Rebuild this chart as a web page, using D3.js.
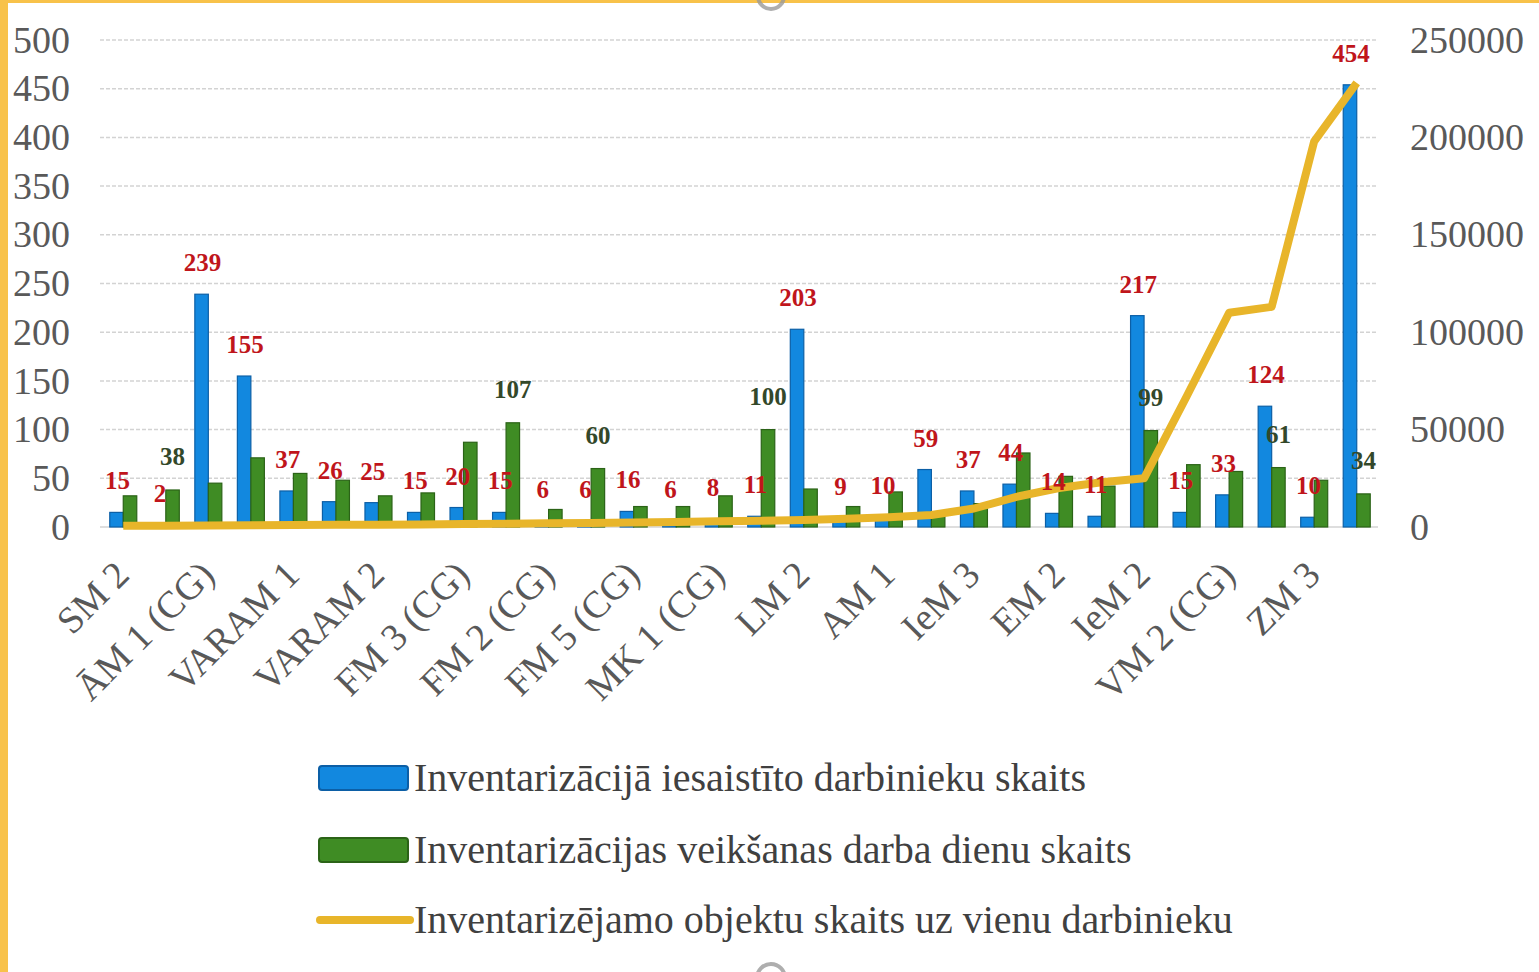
<!DOCTYPE html>
<html>
<head>
<meta charset="utf-8">
<script src="https://cdn.jsdelivr.net/npm/d3@7"></script>
<style>
  html, body { margin: 0; padding: 0; background: #ffffff; }
  svg { display: block; }
</style>
</head>
<body>
<svg id="chart" width="1539" height="972"></svg>
<script>
// ---- data ----
const categories = ["SM 2", "", "ĀM 1 (CG)", "", "VARAM 1", "", "VARAM 2", "", "FM 3 (CG)", "",
  "FM 2 (CG)", "", "FM 5 (CG)", "", "MK 1 (CG)", "", "LM 2", "", "AM 1", "",
  "IeM 3", "", "EM 2", "", "IeM 2", "", "VM 2 (CG)", "", "ZM 3", ""];
const employees = [15, 2, 239, 155, 37, 26, 25, 15, 20, 15, 6, 6, 16, 6, 8, 11, 203, 9, 10, 59,
  37, 44, 14, 11, 217, 15, 33, 124, 10, 454];
const workDays = [32, 38, 45, 71, 55, 48, 32, 35, 87, 107, 18, 60, 21, 21, 32, 100, 39, 21, 36, 15,
  24, 76, 52, 42, 99, 64, 57, 61, 48, 34];
const workDayLabels = [null, 38, null, null, null, null, null, null, null, 107, null, 60, null, null, null, 100,
  null, null, null, null, null, null, null, null, 99, null, null, 61, null, 34];
const objectsPerEmployee = [600, 700, 800, 900, 1000, 1100, 1200, 1300, 1500, 1700, 1900, 2100, 2300, 2600, 2900,
  3200, 3600, 4200, 5000, 6200, 9500, 15500, 20000, 23000, 25000, 67000, 110000, 113000, 198000, 228000];
const leftTicks = [0, 50, 100, 150, 200, 250, 300, 350, 400, 450, 500];
const rightTicks = [0, 50000, 100000, 150000, 200000, 250000];
const seriesNames = ["Inventarizācijā iesaistīto darbinieku skaits",
  "Inventarizācijas veikšanas darba dienu skaits",
  "Inventarizējamo objektu skaits uz vienu darbinieku"];

// ---- setup ----
const svg = d3.select("#chart");
const FONT = "'Liberation Serif', 'Times New Roman', serif";
const C_BLUE = "#1288df", C_BLUE_S = "#0c5fa6";
const C_GREEN = "#3f8c24", C_GREEN_S = "#2b6317";
const C_LINE = "#e8b52a";

svg.append("rect").attr("width", 1539).attr("height", 972).attr("fill", "#ffffff");

const idx = d3.range(categories.length);
const x = d3.scaleBand().domain(idx).range([102, 1378]).padding(0);
const y = d3.scaleLinear().domain([0, 500]).range([527, 40]);
const y2 = d3.scaleLinear().domain([0, 250000]).range([527, 40]);
const barW = 13.5;

// gridlines
svg.append("g").selectAll("line").data(leftTicks).join("line")
  .attr("x1", 100).attr("x2", 1378)
  .attr("y1", d => y(d)).attr("y2", d => y(d))
  .attr("stroke", "#d3d3d3").attr("stroke-width", 1.5)
  .attr("stroke-dasharray", d => d === 0 ? null : "4 2");

// left axis
const gl = svg.append("g").attr("transform", "translate(100,0)")
  .call(d3.axisLeft(y).tickValues(leftTicks).tickSize(0).tickPadding(30));
gl.select(".domain").remove();
gl.selectAll("text").attr("font-family", FONT).attr("font-size", 38).attr("fill", "#595959");

// right axis
const gr = svg.append("g").attr("transform", "translate(1378,0)")
  .call(d3.axisRight(y2).tickValues(rightTicks).tickFormat(d3.format("d")).tickSize(0).tickPadding(32));
gr.select(".domain").remove();
gr.selectAll("text").attr("font-family", FONT).attr("font-size", 38).attr("fill", "#595959");

// x axis
const gx = svg.append("g").attr("transform", "translate(0,527)")
  .call(d3.axisBottom(x).tickValues(idx.filter(i => i % 2 === 0))
    .tickFormat(i => categories[i]).tickSize(0));
gx.select(".domain").remove();
gx.selectAll("text")
  .attr("font-family", FONT).attr("font-size", 38).attr("fill", "#595959")
  .attr("text-anchor", "end").attr("x", 0).attr("y", 0).attr("dy", 0)
  .attr("transform", "translate(8,50) rotate(-45)");

const cx = i => x(i) + x.bandwidth() / 2;

// blue bars
svg.append("g").selectAll("rect").data(employees).join("rect")
  .attr("x", (d, i) => cx(i) - barW).attr("width", barW)
  .attr("y", d => y(d)).attr("height", d => y(0) - y(d))
  .attr("fill", C_BLUE).attr("stroke", C_BLUE_S).attr("stroke-width", 1.2);

// green bars
svg.append("g").selectAll("rect").data(workDays).join("rect")
  .attr("x", (d, i) => cx(i)).attr("width", barW)
  .attr("y", d => y(d)).attr("height", d => y(0) - y(d))
  .attr("fill", C_GREEN).attr("stroke", C_GREEN_S).attr("stroke-width", 1.2);

// line
const line = d3.line().x((d, i) => cx(i)).y(d => y2(d));
svg.append("path").datum(objectsPerEmployee)
  .attr("d", line).attr("fill", "none").attr("stroke", C_LINE)
  .attr("stroke-width", 8).attr("stroke-linejoin", "round").attr("stroke-linecap", "butt");

// labels - blue series (red text)
svg.append("g").selectAll("text").data(employees).join("text")
  .attr("x", (d, i) => cx(i) - barW / 2 + 1).attr("y", d => y(d) - 23)
  .attr("text-anchor", "middle").attr("font-family", FONT).attr("font-size", 25)
  .attr("font-weight", "bold").attr("fill", "#c0151b")
  .text(d => d);

// labels - green series
svg.append("g").selectAll("text").data(idx.filter(i => workDayLabels[i] !== null)).join("text")
  .attr("x", i => cx(i) + barW / 2).attr("y", i => y(workDays[i]) - 25)
  .attr("text-anchor", "middle").attr("font-family", FONT).attr("font-size", 25)
  .attr("font-weight", "bold").attr("fill", "#33482a")
  .text(i => workDayLabels[i]);

// legend
const lg = svg.append("g");
const legendRows = [778, 850, 920];
lg.append("rect").attr("x", 319).attr("y", legendRows[0] - 12).attr("width", 89).attr("height", 24)
  .attr("rx", 3).attr("fill", C_BLUE).attr("stroke", C_BLUE_S).attr("stroke-width", 2);
lg.append("rect").attr("x", 319).attr("y", legendRows[1] - 12).attr("width", 89).attr("height", 24)
  .attr("rx", 3).attr("fill", C_GREEN).attr("stroke", C_GREEN_S).attr("stroke-width", 2);
lg.append("line").attr("x1", 320).attr("x2", 410).attr("y1", legendRows[2]).attr("y2", legendRows[2])
  .attr("stroke", C_LINE).attr("stroke-width", 8).attr("stroke-linecap", "round");
lg.selectAll("text").data(seriesNames).join("text")
  .attr("x", 414).attr("y", (d, i) => legendRows[i] + 13)
  .attr("font-family", FONT).attr("font-size", 40).attr("fill", "#404040")
  .text(d => d);

// frame decorations
svg.append("rect").attr("x", 0).attr("y", 0).attr("width", 8).attr("height", 972).attr("fill", "#f8c24a");
svg.append("rect").attr("x", 0).attr("y", 0).attr("width", 1539).attr("height", 3).attr("fill", "#f8c24a");
svg.append("circle").attr("cx", 771).attr("cy", -4).attr("r", 13).attr("fill", "none")
  .attr("stroke", "#9a9a9a").attr("stroke-width", 4).attr("opacity", 0.8);
svg.append("circle").attr("cx", 771).attr("cy", 978).attr("r", 14).attr("fill", "none")
  .attr("stroke", "#9a9a9a").attr("stroke-width", 4).attr("opacity", 0.8);
</script>
</body>
</html>
